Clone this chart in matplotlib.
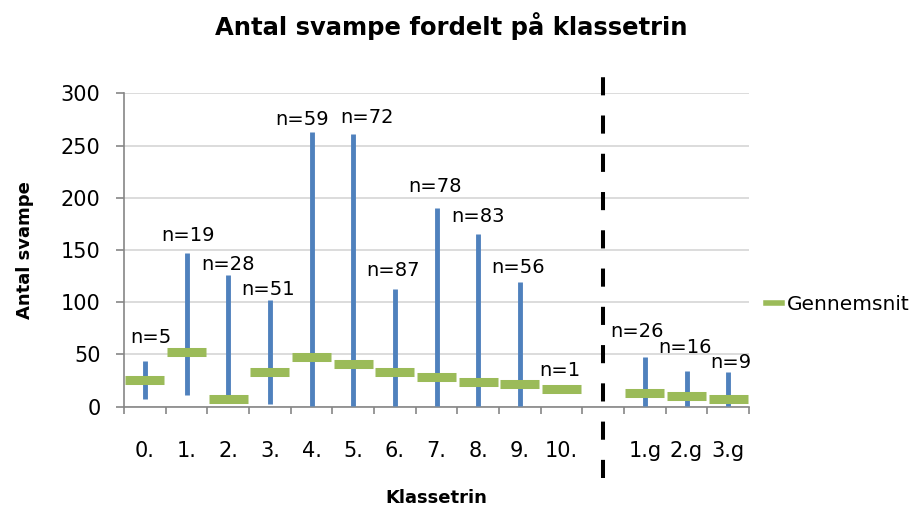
import numpy as np
import matplotlib.pyplot as plt
from matplotlib.lines import Line2D

plt.rcParams['font.family'] = ['DejaVu Sans']

# data
categories = ['0.', '1.', '2.', '3.', '4.', '5.', '6.', '7.', '8.', '9.', '10.', '', '1.g', '2.g', '3.g']
n_counts = [5, 19, 28, 51, 59, 72, 87, 78, 83, 56, 1, None, 26, 16, 9]
max_vals = [44, 147, 126, 102, 263, 261, 113, 190, 165, 119, 17, None, 48, 34, 33]
min_vals = [7, 11, 5, 3, 1, 1, 1, 1, 1, 1, 17, None, 1, 1, 1]
mean_vals = [25.5, 52, 7, 33, 48, 41, 33, 28, 24, 21.5, 17, None, 13, 10, 7.5]

# label nudges (points) - the labels were placed by hand in the original
label_dx = [4, 1, 0, -1, -7, 10, -1, -1, 0, -1, -1, 0, -6, -1, 2]
label_dy = [13, 9, 4, 4, 5, 8, 9, 12, 9, 7, 9, 0, 14, 13, 3]

blue = '#4F81BD'
green = '#9BBB59'
axis_grey = '#868686'

fig = plt.figure(figsize=(9.16, 5.12), dpi=100)
ax = fig.add_axes([0.1354, 0.2057, 0.6823, 0.6121])

x = np.arange(len(categories))
idx = [i for i in x if max_vals[i] is not None]

# min-max lines
xs = [i for i in idx if max_vals[i] > min_vals[i]]
ax.vlines(xs, [min_vals[i] for i in xs], [max_vals[i] for i in xs],
          color=blue, lw=3.5, zorder=3)

# gennemsnit
ax.hlines([mean_vals[i] for i in idx], [i - 0.47 for i in idx], [i + 0.47 for i in idx],
          color=green, lw=6.5, zorder=4)

# n labels
for i in idx:
    top = max(max_vals[i], mean_vals[i])
    ax.annotate(f'n={n_counts[i]}', (i, top), xytext=(label_dx[i], label_dy[i]),
                textcoords='offset points', ha='center', va='baseline',
                fontsize=14, color='black')

ax.set_xlim(-0.5, len(categories) - 0.5)
ax.set_ylim(0, 300)
ax.set_yticks(np.arange(0, 301, 50))
ax.set_xticks(x)
ax.set_xticklabels(categories)
ax.set_xticks(np.arange(-0.5, len(categories), 1), minor=True)
ax.tick_params(axis='x', which='major', length=0, pad=25, labelsize=15)
ax.tick_params(axis='x', which='minor', length=5, color=axis_grey, width=1.2)
ax.tick_params(axis='y', length=6, color=axis_grey, width=1.2, labelsize=15, pad=11)

ax.grid(axis='y', color='#D9D9D9', lw=1.3)
ax.set_axisbelow(True)
for s in ['top', 'right']:
    ax.spines[s].set_visible(False)
for s in ['left', 'bottom']:
    ax.spines[s].set_color(axis_grey)
    ax.spines[s].set_linewidth(1.2)

# skillelinje mellem grundskole og gymnasium
sep = ax.axvline(11, ymin=-0.228, ymax=1.08, color='black', lw=2.9, clip_on=False, zorder=5)
sep.set_dashes((4.5, 5))

ax.set_title('Antal svampe fordelt på klassetrin', fontsize=17.5, fontweight='bold',
             pad=42, x=0.523)
ax.set_xlabel('Klassetrin', fontsize=13, fontweight='bold', labelpad=20)
ax.set_ylabel('Antal svampe', fontsize=13, fontweight='bold', labelpad=19)

handle = Line2D([0], [0], color=green, lw=4)
ax.legend([handle], ['Gennemsnit'], loc='center left', bbox_to_anchor=(1.027, 0.3245),
          frameon=False, fontsize=14.5, handlelength=0.8, handletextpad=0.25,
          borderpad=0, borderaxespad=0)

fig.savefig('out.png', dpi=100)
